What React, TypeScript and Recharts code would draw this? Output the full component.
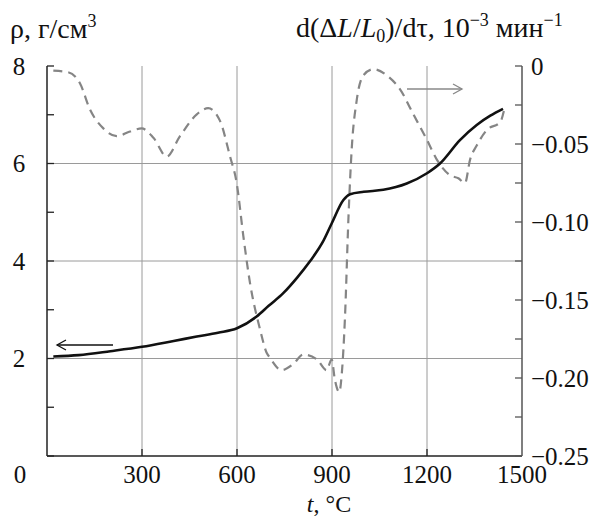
import React from "react";
import {
  ComposedChart,
  Line,
  XAxis,
  YAxis,
  ReferenceLine,
} from "recharts";

// density curve
const rhoTemp = [20, 100, 200, 300, 400, 473, 540, 600, 662, 700, 746, 790, 831, 870, 899, 936, 957, 1000, 1062, 1136, 1200, 1241, 1304, 1357, 1400, 1440];
const rhoValues = [2.04, 2.07, 2.15, 2.24, 2.36, 2.45, 2.53, 2.62, 2.86, 3.08, 3.34, 3.66, 4.0, 4.38, 4.77, 5.25, 5.37, 5.42, 5.46, 5.59, 5.8, 6.0, 6.48, 6.79, 6.98, 7.12];

// shrinkage rate curve
const rateTemp = [20, 67, 104, 136, 178, 220, 262, 299, 336, 378, 420, 473, 509, 546, 578, 599, 620, 641, 673, 694, 704, 741, 778, 809, 852, 883, 899, 909, 923, 931, 941, 952, 962, 978, 999, 1031, 1073, 1115, 1157, 1199, 1231, 1273, 1299, 1320, 1336, 1357, 1389, 1431, 1446];
const rateValues = [-0.003, -0.004, -0.011, -0.028, -0.04, -0.045, -0.042, -0.04, -0.046, -0.058, -0.045, -0.031, -0.027, -0.035, -0.058, -0.075, -0.109, -0.139, -0.169, -0.184, -0.187, -0.195, -0.191, -0.185, -0.188, -0.195, -0.188, -0.201, -0.209, -0.197, -0.161, -0.097, -0.054, -0.022, -0.006, -0.002, -0.006, -0.015, -0.031, -0.047, -0.06, -0.07, -0.072, -0.075, -0.06, -0.051, -0.041, -0.036, -0.026];

const xTicks = [0, 300, 600, 900, 1200, 1500];
const rhoTicks = [0, 1, 2, 3, 4, 5, 6, 7, 8];
const rateTicks = [0, -0.025, -0.05, -0.075, -0.1, -0.125, -0.15, -0.175, -0.2, -0.225, -0.25];
const gridX = [300, 600, 900, 1200];
const gridY = [2, 4, 6];

const rhoData = rhoTemp.map((t, i) => ({ t, rho: rhoValues[i] }));
const rateData = rateTemp.map((t, i) => ({ t, rate: rateValues[i] }));

const FONT = '"Liberation Serif"';
const LEFT = 47;
const RIGHT = 522;
const BOTTOM = 456;
const AXIS = "#222";
const tickTxt = { fontFamily: FONT, fontSize: 25 };
const titleTxt = { fontFamily: FONT, fontSize: 28 };

const LeftTick = (props: any) => {
  const { y, payload } = props;
  const v = payload.value;
  return (
    <g>
      <line x1={LEFT} x2={LEFT + 7} y1={y} y2={y} stroke={AXIS} strokeWidth={1.3} />
      {v % 2 === 0 && v !== 0 && (
        <text x={19} y={y} dy="0.35em" textAnchor="middle" style={tickTxt} fill="#111">
          {v}
        </text>
      )}
    </g>
  );
};

const RightTick = (props: any) => {
  const { y, payload } = props;
  const v = payload.value;
  const major = Math.round(Math.abs(v) * 1000) % 50 === 0;
  const label = v === 0 ? "0" : "\u2212" + Math.abs(v).toFixed(2);
  return (
    <g>
      <line x1={RIGHT - 7} x2={RIGHT} y1={y} y2={y} stroke="#555" strokeWidth={1.3} />
      {major && (
        <text x={531} y={y} dy="0.37em" textAnchor="start" style={tickTxt} fill="#111">
          {label}
        </text>
      )}
    </g>
  );
};

const BottomTick = (props: any) => {
  const { x, payload } = props;
  const v = payload.value;
  return (
    <g>
      {v > 0 && v < 1500 && (
        <line x1={x} x2={x} y1={BOTTOM - 7} y2={BOTTOM} stroke={AXIS} strokeWidth={1.3} />
      )}
      <text x={v === 0 ? 20 : x} y={483} textAnchor="middle" style={tickTxt} fill="#111">
        {v}
      </text>
    </g>
  );
};

export default function App() {
  return (
    <div style={{ position: "absolute", left: 0, top: 0, width: 596, height: 519, background: "#fff" }}>
      <ComposedChart
        width={596}
        height={519}
        margin={{ top: 66, right: 0, bottom: 0, left: 0 }}
      >
        <XAxis
          dataKey="t"
          type="number"
          domain={[0, 1500]}
          ticks={xTicks}
          interval={0}
          height={63}
          tickLine={false}
          axisLine={{ stroke: AXIS, strokeWidth: 1.5 }}
          tick={<BottomTick />}
          allowDuplicatedCategory={false}
        />
        <YAxis
          yAxisId="left"
          orientation="left"
          type="number"
          domain={[0, 8]}
          ticks={rhoTicks}
          interval={0}
          width={LEFT}
          tickLine={false}
          axisLine={{ stroke: AXIS, strokeWidth: 1.5 }}
          tick={<LeftTick />}
        />
        <YAxis
          yAxisId="right"
          orientation="right"
          type="number"
          domain={[-0.25, 0]}
          ticks={rateTicks}
          interval={0}
          width={596 - RIGHT}
          tickLine={false}
          axisLine={{ stroke: "#555", strokeWidth: 1.5 }}
          tick={<RightTick />}
        />
        {gridX.map((v) => (
          <ReferenceLine key={"gx" + v} x={v} yAxisId="left" stroke="#9a9a9a" strokeWidth={1} />
        ))}
        {gridY.map((v) => (
          <ReferenceLine key={"gy" + v} y={v} yAxisId="left" stroke="#9a9a9a" strokeWidth={1} />
        ))}
        <Line
          data={rateData}
          yAxisId="right"
          dataKey="rate"
          type="monotone"
          stroke="#858585"
          strokeWidth={2.2}
          strokeDasharray="9 6"
          dot={false}
          isAnimationActive={false}
        />
        <Line
          data={rhoData}
          yAxisId="left"
          dataKey="rho"
          type="monotone"
          stroke="#111"
          strokeWidth={2.6}
          dot={false}
          isAnimationActive={false}
        />
      </ComposedChart>
      <svg
        width={596}
        height={519}
        style={{ position: "absolute", left: 0, top: 0, pointerEvents: "none" }}
        fill="#111"
      >
        <g style={titleTxt}>
          <text x={10} y={38}>
            ρ, г/см<tspan fontSize={18} dy={-11}>3</tspan>
          </text>
          <text x={296} y={37}>
            d(Δ<tspan fontStyle="italic">L</tspan>/<tspan fontStyle="italic">L</tspan>
            <tspan fontSize={18} dy={5}>0</tspan>
            <tspan dy={-5}>)/dτ, 10</tspan>
            <tspan fontSize={18} dy={-11}>−3</tspan>
            <tspan dy={11}> мин</tspan>
            <tspan fontSize={18} dy={-11}>−1</tspan>
          </text>
        </g>
        <text x={329} y={512} textAnchor="middle" style={{ fontFamily: FONT, fontSize: 24 }}>
          <tspan fontStyle="italic">t</tspan>, °C
        </text>
        <g stroke="#111" strokeWidth={1.3} fill="none">
          <line x1={113} y1={345} x2={57} y2={345} />
          <polyline points="66,340 57,345 66,350" />
        </g>
        <g stroke="#888" strokeWidth={1.3} fill="none">
          <line x1={407} y1={89} x2={462} y2={89} />
          <polyline points="453,84 462,89 453,94" />
        </g>
      </svg>
    </div>
  );
}
